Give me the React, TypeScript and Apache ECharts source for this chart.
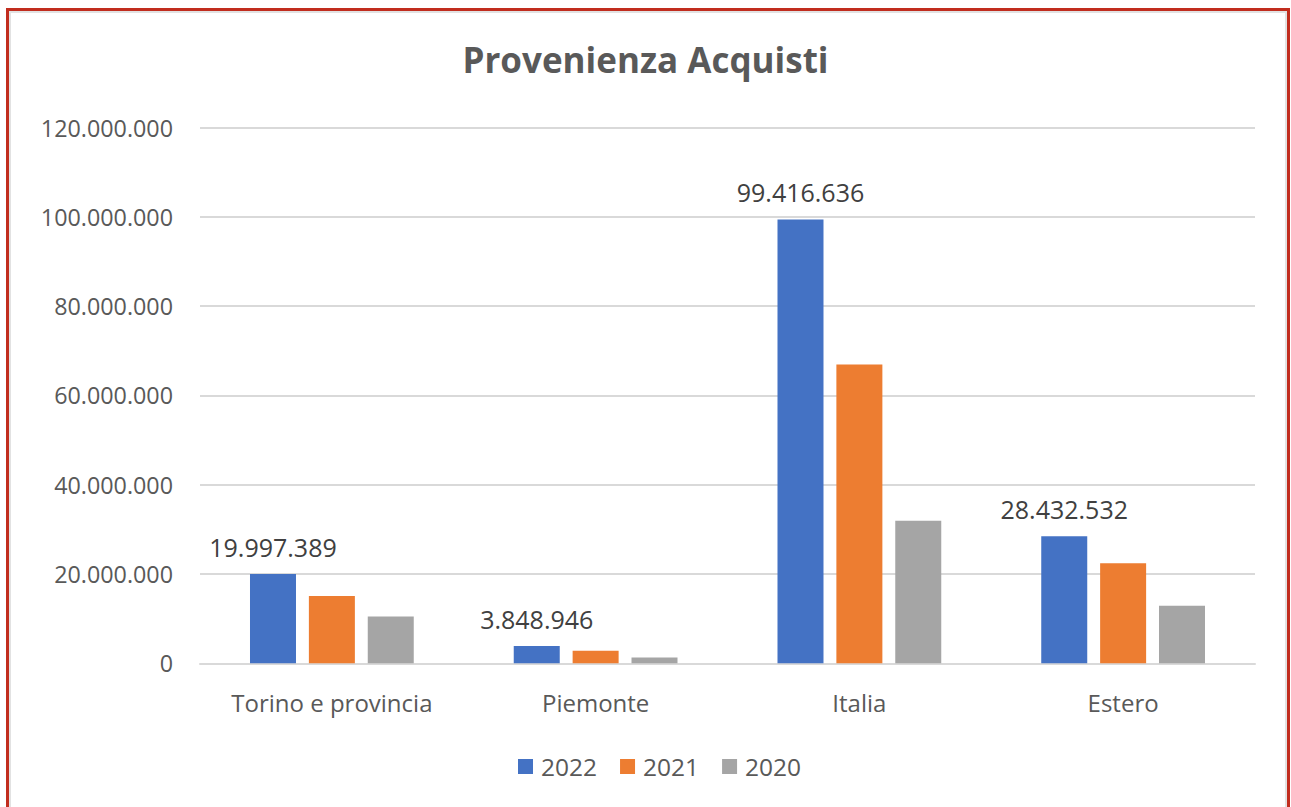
import React, { useEffect, useRef } from "react";
import * as echarts from "echarts";

const categories = ["Torino e provincia", "Piemonte", "Italia", "Estero"];
const seriesNames = ["2022", "2021", "2020"];
const values2022 = [19997389, 3848946, 99416636, 28432532];
const values2021 = [15100000, 2800000, 66900000, 22400000];
const values2020 = [10500000, 1300000, 31900000, 12900000];
const colors = ["#4472C4", "#ED7D31", "#A5A5A5"];
const title = "Provenienza Acquisti";

const fmt = (n: number) => String(Math.round(n)).replace(/\B(?=(\d{3})+(?!\d))/g, ".");

export default function App() {
  const ref = useRef<HTMLDivElement>(null);
  useEffect(() => {
    if (!ref.current) return;
    const chart = echarts.init(ref.current, undefined, { renderer: "svg" });
    const font = "'Open Sans', sans-serif";
    const data = [values2022, values2021, values2020];
    chart.setOption({
      animation: false,
      textStyle: { fontFamily: font },
      title: {
        text: title,
        left: "center",
        top: 37,
        textStyle: { fontFamily: font, fontSize: 35, fontWeight: "bold", color: "#595959" },
      },
      legend: {
        data: seriesNames,
        left: 513,
        top: 749,
        itemWidth: 15,
        itemHeight: 15,
        itemGap: 23,
        icon: "rect",
        textStyle: { fontFamily: font, fontSize: 24.5, color: "#595959", padding: [0, 0, 0, 3] },
      },
      grid: { left: 200, right: 36, top: 127.5, bottom: 143.7, containLabel: false },
      xAxis: {
        type: "category",
        data: categories,
        axisLine: { lineStyle: { color: "#d9d9d9", width: 2 } },
        axisTick: { show: false },
        axisLabel: { fontFamily: font, fontSize: 24, color: "#595959", margin: 27 },
      },
      yAxis: {
        type: "value",
        min: 0,
        max: 120000000,
        interval: 20000000,
        axisLine: { show: false },
        axisTick: { show: false },
        splitLine: { lineStyle: { color: "#d9d9d9", width: 2 } },
        axisLabel: {
          fontFamily: font,
          fontSize: 23.3,
          color: "#595959",
          margin: 27,
          formatter: (v: number) => fmt(v),
        },
      },
      series: seriesNames.map((name, i) => ({
        name,
        type: "bar",
        data: data[i],
        barWidth: 46,
        barGap: "28%",
        itemStyle: { color: colors[i] },
        label: {
          show: i === 0,
          position: "top",
          distance: 15,
          fontFamily: font,
          fontSize: 25,
          color: "#404040",
          formatter: (p: any) => fmt(p.value),
        },
      })),
    });
    return () => chart.dispose();
  }, []);

  return (
    <div style={{ position: "fixed", left: 0, top: 0, width: 1291, height: 807, background: "#fff", overflow: "hidden" }}>
      <div
        style={{
          position: "absolute",
          left: 6,
          top: 8,
          width: 1284,
          height: 830,
          boxSizing: "border-box",
          border: "3px solid #c12d1e",
          boxShadow: "inset 0 0 0 2px #e2e2e2",
        }}
      />
      <div ref={ref} style={{ position: "absolute", left: 0, top: 0, width: 1291, height: 807 }} />
    </div>
  );
}
